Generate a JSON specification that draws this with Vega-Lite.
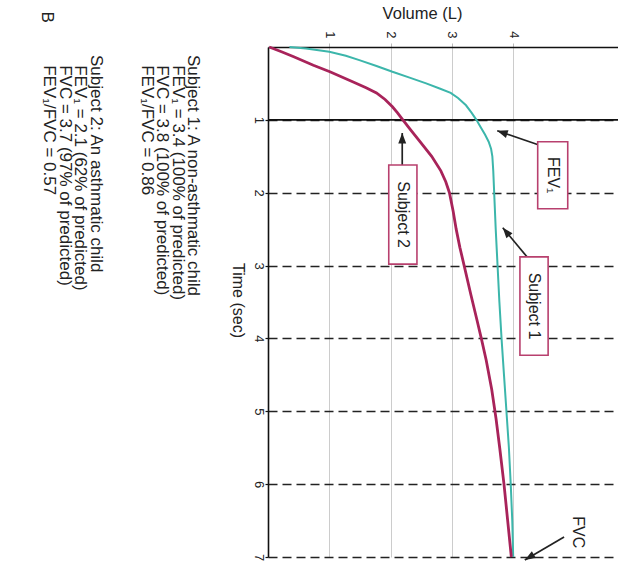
{
  "$schema": "https://vega.github.io/schema/vega-lite/v6.json",
  "width": 350,
  "height": 510,
  "autosize": {"type": "none"},
  "padding": {"left": 268, "top": 47, "right": 0, "bottom": 5},
  "background": "white",
  "config": {"view": {"stroke": null}, "font": "Liberation Sans"},
  "datasets": {
    "curves": [
      {"subject": "Subject 1", "time": 0, "volume": 0.35},
      {"subject": "Subject 1", "time": 0.02, "volume": 0.62},
      {"subject": "Subject 1", "time": 0.065, "volume": 1.0},
      {"subject": "Subject 1", "time": 0.12, "volume": 1.27},
      {"subject": "Subject 1", "time": 0.18, "volume": 1.49},
      {"subject": "Subject 1", "time": 0.26, "volume": 1.77},
      {"subject": "Subject 1", "time": 0.34, "volume": 2.03},
      {"subject": "Subject 1", "time": 0.42, "volume": 2.31},
      {"subject": "Subject 1", "time": 0.5, "volume": 2.58},
      {"subject": "Subject 1", "time": 0.57, "volume": 2.8},
      {"subject": "Subject 1", "time": 0.63, "volume": 2.98},
      {"subject": "Subject 1", "time": 0.7, "volume": 3.1},
      {"subject": "Subject 1", "time": 0.8, "volume": 3.23},
      {"subject": "Subject 1", "time": 0.9, "volume": 3.32},
      {"subject": "Subject 1", "time": 1.0, "volume": 3.4},
      {"subject": "Subject 1", "time": 1.1, "volume": 3.47},
      {"subject": "Subject 1", "time": 1.2, "volume": 3.54},
      {"subject": "Subject 1", "time": 1.3, "volume": 3.6},
      {"subject": "Subject 1", "time": 1.4, "volume": 3.64},
      {"subject": "Subject 1", "time": 1.5, "volume": 3.66},
      {"subject": "Subject 1", "time": 1.7, "volume": 3.675},
      {"subject": "Subject 1", "time": 2.0, "volume": 3.69},
      {"subject": "Subject 1", "time": 2.5, "volume": 3.715},
      {"subject": "Subject 1", "time": 3.0, "volume": 3.745},
      {"subject": "Subject 1", "time": 3.5, "volume": 3.775},
      {"subject": "Subject 1", "time": 4.0, "volume": 3.81},
      {"subject": "Subject 1", "time": 4.5, "volume": 3.85},
      {"subject": "Subject 1", "time": 5.0, "volume": 3.89},
      {"subject": "Subject 1", "time": 5.5, "volume": 3.93},
      {"subject": "Subject 1", "time": 6.0, "volume": 3.96},
      {"subject": "Subject 1", "time": 6.5, "volume": 3.985},
      {"subject": "Subject 1", "time": 7.0, "volume": 4.0},
      {"subject": "Subject 2", "time": 0, "volume": 0.02},
      {"subject": "Subject 2", "time": 0.065, "volume": 0.22},
      {"subject": "Subject 2", "time": 0.13, "volume": 0.41},
      {"subject": "Subject 2", "time": 0.25, "volume": 0.74},
      {"subject": "Subject 2", "time": 0.34, "volume": 1.01},
      {"subject": "Subject 2", "time": 0.48, "volume": 1.39},
      {"subject": "Subject 2", "time": 0.56, "volume": 1.6},
      {"subject": "Subject 2", "time": 0.63, "volume": 1.77},
      {"subject": "Subject 2", "time": 0.72, "volume": 1.91},
      {"subject": "Subject 2", "time": 0.82, "volume": 2.03},
      {"subject": "Subject 2", "time": 0.9, "volume": 2.11},
      {"subject": "Subject 2", "time": 1.0, "volume": 2.2},
      {"subject": "Subject 2", "time": 1.14, "volume": 2.33},
      {"subject": "Subject 2", "time": 1.3, "volume": 2.48},
      {"subject": "Subject 2", "time": 1.5, "volume": 2.67},
      {"subject": "Subject 2", "time": 1.7, "volume": 2.82},
      {"subject": "Subject 2", "time": 1.85, "volume": 2.9},
      {"subject": "Subject 2", "time": 2.0, "volume": 2.96},
      {"subject": "Subject 2", "time": 2.25, "volume": 3.02},
      {"subject": "Subject 2", "time": 2.5, "volume": 3.07},
      {"subject": "Subject 2", "time": 2.75, "volume": 3.13},
      {"subject": "Subject 2", "time": 3.0, "volume": 3.2},
      {"subject": "Subject 2", "time": 3.4, "volume": 3.31},
      {"subject": "Subject 2", "time": 3.75, "volume": 3.41},
      {"subject": "Subject 2", "time": 4.0, "volume": 3.48},
      {"subject": "Subject 2", "time": 4.3, "volume": 3.56},
      {"subject": "Subject 2", "time": 4.7, "volume": 3.65},
      {"subject": "Subject 2", "time": 5.1, "volume": 3.72},
      {"subject": "Subject 2", "time": 5.5, "volume": 3.78},
      {"subject": "Subject 2", "time": 6.0, "volume": 3.85},
      {"subject": "Subject 2", "time": 6.5, "volume": 3.91},
      {"subject": "Subject 2", "time": 7.0, "volume": 3.97}
    ],
    "arrows": [
      {"name": "FEV1", "volume": 3.74, "time": 1.15, "volume2": 4.42, "time2": 1.345},
      {"name": "Subject 1", "volume": 3.83, "time": 2.48, "volume2": 4.225, "time2": 2.88},
      {"name": "Subject 2", "volume": 2.19, "time": 1.18, "volume2": 2.19, "time2": 1.62},
      {"name": "FVC", "volume": 4.19, "time": 7.04, "volume2": 4.83, "time2": 6.725}
    ],
    "boxes": [
      {"label": "FEV₁", "volume": 4.4, "volume2": 4.89, "time": 1.3, "time2": 2.22},
      {"label": "Subject 1", "volume": 4.11, "volume2": 4.57, "time": 2.88, "time2": 4.23},
      {"label": "Subject 2", "volume": 1.97, "volume2": 2.43, "time": 1.62, "time2": 2.98}
    ],
    "boxlabels": [
      {"label": "FEV₁", "volume": 4.645, "time": 1.76},
      {"label": "Subject 1", "volume": 4.34, "time": 3.555},
      {"label": "Subject 2", "volume": 2.2, "time": 2.3},
      {"label": "FVC", "volume": 5.05, "time": 6.66}
    ],
    "notes": [
      {"text": "Subject 1: A non-asthmatic child", "volume": -1.223, "time": 0.11},
      {"text": "FEV₁ = 3.4 (100% of predicted)", "volume": -1.476, "time": 0.25},
      {"text": "FVC = 3.8 (100% of predicted)", "volume": -1.729, "time": 0.25},
      {"text": "FEV₁/FVC = 0.86", "volume": -1.982, "time": 0.25},
      {"text": "Subject 2: An asthmatic child", "volume": -2.806, "time": 0.11},
      {"text": "FEV₁ = 2.1 (62% of predicted)", "volume": -3.059, "time": 0.25},
      {"text": "FVC = 3.7 (97% of predicted)", "volume": -3.312, "time": 0.25},
      {"text": "FEV₁/FVC = 0.57", "volume": -3.565, "time": 0.25}
    ]
  },
  "layer": [
    {
      "data": {"name": "curves"},
      "transform": [{"filter": "datum.subject == 'Subject 1'"}],
      "mark": {"type": "line", "color": "#3cb6ab", "strokeWidth": 2, "opacity": 0},
      "encoding": {
        "x": {
          "field": "volume", "type": "quantitative",
          "scale": {"domain": [0, 5.71], "nice": false, "zero": false},
          "axis": {
            "orient": "top", "title": "Volume (L)", "values": [1, 2, 3, 4], "format": "d",
            "labelAngle": 90, "labelAlign": "right", "labelBaseline": "middle",
            "labelFontSize": 13, "labelColor": "#222", "labelPadding": 5,
            "tickSize": 4, "tickColor": "#bbbbbb",
            "domainColor": "#111", "domainWidth": 1.6,
            "grid": true, "gridColor": "#cccccc", "gridWidth": 1,
            "titleFontSize": 16.5, "titleFontWeight": "normal", "titleColor": "#222",
            "titleX": 154, "titleY": -34, "titleAlign": "center", "titleBaseline": "middle"
          }
        },
        "y": {
          "field": "time", "type": "quantitative",
          "scale": {"domain": [0, 7], "nice": false, "zero": false, "reverse": true},
          "axis": {
            "title": "Time (sec)", "values": [1, 2, 3, 4, 5, 6, 7], "format": "d",
            "labelAngle": 90, "labelAlign": "center", "labelBaseline": "top",
            "labelFontSize": 13, "labelColor": "#222", "labelPadding": 1,
            "tickSize": 3, "tickColor": "#111", "tickWidth": 1.2,
            "domainColor": "#111", "domainWidth": 1.6,
            "grid": true, "gridColor": "#222", "gridDash": [9, 5], "gridWidth": 1.7,
            "titleFontSize": 16, "titleFontWeight": "normal", "titleColor": "#222",
            "titleAngle": 90, "titleX": -31, "titleY": 253, "titleAlign": "center", "titleBaseline": "middle"
          }
        },
        "order": {"field": "time", "type": "quantitative"}
      }
    },
    {
      "data": {"values": [{}]},
      "mark": {"type": "rule", "color": "#111", "strokeWidth": 1.7},
      "encoding": {
        "y": {"datum": 1, "type": "quantitative", "scale": {"domain": [0, 7], "nice": false, "zero": false, "reverse": true}}
      }
    },
    {
      "data": {"name": "curves"},
      "transform": [{"filter": "datum.subject == 'Subject 1'"}],
      "mark": {"type": "line", "color": "#3cb6ab", "strokeWidth": 2},
      "encoding": {
        "x": {"field": "volume", "type": "quantitative", "scale": {"domain": [0, 5.71], "nice": false, "zero": false}},
        "y": {"field": "time", "type": "quantitative", "scale": {"domain": [0, 7], "nice": false, "zero": false, "reverse": true}},
        "order": {"field": "time", "type": "quantitative"}
      }
    },
    {
      "data": {"name": "curves"},
      "transform": [{"filter": "datum.subject == 'Subject 2'"}],
      "mark": {"type": "line", "color": "#a8235a", "strokeWidth": 2.8},
      "encoding": {
        "x": {"field": "volume", "type": "quantitative", "scale": {"domain": [0, 5.71], "nice": false, "zero": false}},
        "y": {"field": "time", "type": "quantitative", "scale": {"domain": [0, 7], "nice": false, "zero": false, "reverse": true}},
        "order": {"field": "time", "type": "quantitative"}
      }
    },
    {
      "data": {"name": "arrows"},
      "mark": {"type": "rule", "color": "#222", "strokeWidth": 1.7},
      "encoding": {
        "x": {"field": "volume", "type": "quantitative", "scale": {"domain": [0, 5.71], "nice": false, "zero": false}},
        "y": {"field": "time", "type": "quantitative", "scale": {"domain": [0, 7], "nice": false, "zero": false, "reverse": true}},
        "x2": {"field": "volume2"},
        "y2": {"field": "time2"}
      }
    },
    {
      "data": {"values": [{}]},
      "mark": {"type": "point", "shape": "M0,0L-0.38,1L0.38,1Z", "filled": true, "fill": "#222", "opacity": 1, "size": 441, "angle": 288.4, "strokeWidth": 0},
      "encoding": {
        "x": {"datum": 3.74, "type": "quantitative", "scale": {"domain": [0, 5.71], "nice": false, "zero": false}},
        "y": {"datum": 1.15, "type": "quantitative", "scale": {"domain": [0, 7], "nice": false, "zero": false, "reverse": true}}
      }
    },
    {
      "data": {"values": [{}]},
      "mark": {"type": "point", "shape": "M0,0L-0.38,1L0.38,1Z", "filled": true, "fill": "#222", "opacity": 1, "size": 441, "angle": 320.4, "strokeWidth": 0},
      "encoding": {
        "x": {"datum": 3.83, "type": "quantitative", "scale": {"domain": [0, 5.71], "nice": false, "zero": false}},
        "y": {"datum": 2.48, "type": "quantitative", "scale": {"domain": [0, 7], "nice": false, "zero": false, "reverse": true}}
      }
    },
    {
      "data": {"values": [{}]},
      "mark": {"type": "point", "shape": "M0,0L-0.38,1L0.38,1Z", "filled": true, "fill": "#222", "opacity": 1, "size": 441, "angle": 0, "strokeWidth": 0},
      "encoding": {
        "x": {"datum": 2.19, "type": "quantitative", "scale": {"domain": [0, 5.71], "nice": false, "zero": false}},
        "y": {"datum": 1.18, "type": "quantitative", "scale": {"domain": [0, 7], "nice": false, "zero": false, "reverse": true}}
      }
    },
    {
      "data": {"values": [{}]},
      "mark": {"type": "point", "shape": "M0,0L-0.38,1L0.38,1Z", "filled": true, "fill": "#222", "opacity": 1, "size": 441, "angle": 239.5, "strokeWidth": 0},
      "encoding": {
        "x": {"datum": 4.19, "type": "quantitative", "scale": {"domain": [0, 5.71], "nice": false, "zero": false}},
        "y": {"datum": 7.04, "type": "quantitative", "scale": {"domain": [0, 7], "nice": false, "zero": false, "reverse": true}}
      }
    },
    {
      "data": {"name": "boxes"},
      "mark": {"type": "rect", "fill": "white", "stroke": "#b8406e", "strokeWidth": 1.6},
      "encoding": {
        "x": {"field": "volume", "type": "quantitative", "scale": {"domain": [0, 5.71], "nice": false, "zero": false}},
        "y": {"field": "time", "type": "quantitative", "scale": {"domain": [0, 7], "nice": false, "zero": false, "reverse": true}},
        "x2": {"field": "volume2"},
        "y2": {"field": "time2"}
      }
    },
    {
      "data": {"name": "boxlabels"},
      "mark": {"type": "text", "angle": 90, "align": "center", "baseline": "middle", "fontSize": 16, "color": "#222"},
      "encoding": {
        "x": {"field": "volume", "type": "quantitative", "scale": {"domain": [0, 5.71], "nice": false, "zero": false}},
        "y": {"field": "time", "type": "quantitative", "scale": {"domain": [0, 7], "nice": false, "zero": false, "reverse": true}},
        "text": {"field": "label"}
      }
    },
    {
      "data": {"name": "notes"},
      "mark": {"type": "text", "angle": 90, "align": "left", "baseline": "middle", "fontSize": 17, "color": "#222"},
      "encoding": {
        "x": {"field": "volume", "type": "quantitative", "scale": {"domain": [0, 5.71], "nice": false, "zero": false}},
        "y": {"field": "time", "type": "quantitative", "scale": {"domain": [0, 7], "nice": false, "zero": false, "reverse": true}},
        "text": {"field": "text"}
      }
    },
    {
      "data": {"values": [{}]},
      "mark": {"type": "text", "angle": 90, "align": "center", "baseline": "middle", "fontSize": 17, "color": "#222", "text": "B"},
      "encoding": {
        "x": {"datum": -3.605, "type": "quantitative", "scale": {"domain": [0, 5.71], "nice": false, "zero": false}},
        "y": {"datum": -0.41, "type": "quantitative", "scale": {"domain": [0, 7], "nice": false, "zero": false, "reverse": true}}
      }
    }
  ]
}
